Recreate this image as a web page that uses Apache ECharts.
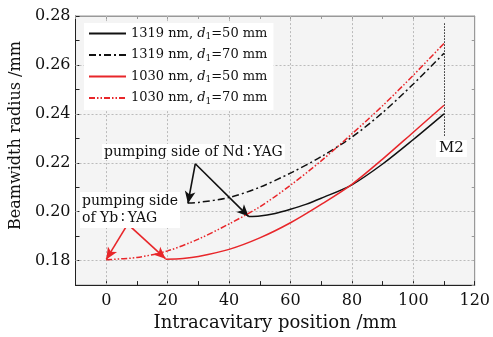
<!DOCTYPE html>
<html>
<head>
<meta charset="utf-8">
<script src="https://cdn.jsdelivr.net/npm/echarts@6/dist/echarts.min.js"></script>
<style>
  html, body { margin: 0; padding: 0; background: #fff; }
  #chart { width: 493px; height: 337px; }
</style>
</head>
<body>
<div id="chart"></div>
<script>
var FONT = "DejaVu Serif";

// curve readings (x in mm, beam radius in mm)
var xBlack50 = [46.4, 50, 55, 60, 65, 70, 80, 90, 100, 110];
var yBlack50 = [0.1980, 0.1982, 0.1993, 0.2010, 0.2030, 0.2055, 0.2110, 0.2195, 0.2295, 0.2400];
var xBlack70 = [26.6, 30, 40, 50, 60, 70, 80, 90, 100, 110];
var yBlack70 = [0.2036, 0.2038, 0.2058, 0.2100, 0.2158, 0.2225, 0.2305, 0.2405, 0.2522, 0.2648];
var xRed50 = [19.3, 25, 30, 40, 50, 60, 70, 80, 90, 100, 110];
var yRed50 = [0.1806, 0.1809, 0.1817, 0.1846, 0.1893, 0.1955, 0.2030, 0.2112, 0.2215, 0.2325, 0.2435];
var xRed70 = [0, 10, 20, 30, 40, 50, 60, 70, 80, 90, 100, 110];
var yRed70 = [0.1804, 0.1813, 0.1840, 0.1888, 0.1950, 0.2020, 0.2108, 0.2208, 0.2318, 0.2433, 0.2558, 0.2688];

var seriesNames = ["1319 nm, d1=50 mm", "1319 nm, d1=70 mm", "1030 nm, d1=50 mm", "1030 nm, d1=70 mm"];
var legendLabels = [
  "1319 nm, {i|d}{s|1}=50 mm",
  "1319 nm, {i|d}{s|1}=70 mm",
  "1030 nm, {i|d}{s|1}=50 mm",
  "1030 nm, {i|d}{s|1}=70 mm"
];

var xGrid = [0, 20, 40, 60, 80, 100];
var yGrid = [0.18, 0.20, 0.22, 0.24, 0.26];

// annotation arrows: [apex, tip]
var ndApex = [29.0, 0.2196];
var ndTips = [[26.6, 0.2034], [46.4, 0.1980]];
var ybApex = [7.0, 0.1949];
var ybTips = [[0, 0.1805], [19.3, 0.1808]];
var m2Line = [[110, 0.2770], [110, 0.2310]];

function pairs(xs, ys) {
  return xs.map(function (x, i) { return [x, ys[i]]; });
}

function arrows(apex, tips, color) {
  return {
    silent: true,
    symbol: ["none", "arrow"],
    symbolSize: [8, 12],
    label: { show: false },
    lineStyle: { color: color, width: 1.6, type: "solid" },
    emphasis: { disabled: true },
    data: tips.map(function (t) {
      return [{ coord: apex }, { coord: t }];
    })
  };
}

var chart = echarts.init(document.getElementById("chart"));

var gridLines = xGrid.map(function (v) { return { xAxis: v }; })
  .concat(yGrid.map(function (v) { return { yAxis: v }; }));

chart.setOption({
  animation: false,
  backgroundColor: "#fff",
  grid: {
    left: 70, right: 18, top: 16, bottom: 50,
    show: true, backgroundColor: "#f4f4f4", borderColor: "#999", borderWidth: 1
  },
  legend: {
    orient: "vertical",
    left: 84, top: 23,
    itemWidth: 37, itemHeight: 10, itemGap: 7,
    padding: [4, 6, 4, 4],
    backgroundColor: "#fff",
    itemStyle: { opacity: 0 },
    data: seriesNames,
    formatter: function (name) { return legendLabels[seriesNames.indexOf(name)]; },
    textStyle: {
      fontFamily: FONT, fontSize: 13, color: "#111",
      rich: {
        i: { fontFamily: FONT, fontSize: 13, fontStyle: "italic", color: "#111" },
        s: { fontFamily: FONT, fontSize: 9, color: "#111", verticalAlign: "bottom", padding: [7, 0, 0, 0] }
      }
    }
  },
  xAxis: [{
    type: "value", min: -10, max: 120, interval: 10,
    name: "Intracavitary position /mm", nameLocation: "middle", nameGap: 28,
    nameTextStyle: { fontFamily: FONT, fontSize: 18, color: "#111" },
    axisLine: { show: true, onZero: false, lineStyle: { color: "#222", width: 1 } },
    axisTick: { show: true, inside: true, length: 4, lineStyle: { color: "#222" } },
    axisLabel: {
      fontFamily: FONT, fontSize: 16, color: "#111", margin: 8,
      formatter: function (v) { return v % 20 === 0 ? String(v) : ""; }
    },
    splitLine: { show: false }
  }, {
    type: "value", min: -10, max: 120, interval: 10, position: "top",
    axisLine: { show: true, onZero: false, lineStyle: { color: "#999" } },
    axisTick: { show: true, inside: true, length: 3, lineStyle: { color: "#999" } },
    axisLabel: { show: false },
    splitLine: { show: false }
  }],
  yAxis: [{
    type: "value", min: 0.17, max: 0.28, interval: 0.01,
    name: "Beamwidth radius /mm", nameLocation: "middle", nameGap: 48,
    nameTextStyle: { fontFamily: FONT, fontSize: 16, color: "#111", padding: [0, 0, 0, 30] },
    axisLine: { show: true, onZero: false, lineStyle: { color: "#222", width: 1 } },
    axisTick: { show: true, inside: true, length: 4, lineStyle: { color: "#222" } },
    axisLabel: {
      fontFamily: FONT, fontSize: 16, color: "#111", margin: 5,
      formatter: function (v) {
        var k = Math.round(v * 100);
        return k % 2 === 0 ? v.toFixed(2) : "";
      }
    },
    splitLine: { show: false }
  }, {
    type: "value", min: 0.17, max: 0.28, interval: 0.01, position: "right",
    axisLine: { show: true, onZero: false, lineStyle: { color: "#999" } },
    axisTick: { show: true, inside: true, length: 3, lineStyle: { color: "#999" } },
    axisLabel: { show: false },
    splitLine: { show: false }
  }],
  series: [
    {
      name: seriesNames[0], type: "line", smooth: 0.3, showSymbol: false, symbol: "none",
      data: pairs(xBlack50, yBlack50), z: 5,
      lineStyle: { color: "#111", width: 1.5, type: "solid" },
      itemStyle: { color: "#111" },
      markLine: {
        silent: true, symbol: ["none", "none"], label: { show: false },
        lineStyle: { color: "#bbb", width: 1, type: [2, 2] },
        data: gridLines, z: 1
      }
    },
    {
      name: seriesNames[1], type: "line", smooth: 0.3, showSymbol: false, symbol: "none",
      data: pairs(xBlack70, yBlack70), z: 5,
      lineStyle: { color: "#111", width: 1.5, type: [7, 3, 2, 3] },
      itemStyle: { color: "#111" },
      markLine: {
        silent: true, symbol: ["none", "none"], label: { show: false },
        lineStyle: { color: "#222", width: 1, type: [1.5, 1.5] },
        data: [[{ coord: m2Line[0] }, { coord: m2Line[1] }]]
      }
    },
    {
      name: seriesNames[2], type: "line", smooth: 0.3, showSymbol: false, symbol: "none",
      data: pairs(xRed50, yRed50), z: 5,
      lineStyle: { color: "#e8262a", width: 1.5, type: "solid" },
      itemStyle: { color: "#e8262a" },
      markLine: arrows(ybApex, ybTips, "#e8262a")
    },
    {
      name: seriesNames[3], type: "line", smooth: 0.3, showSymbol: false, symbol: "none",
      data: pairs(xRed70, yRed70), z: 5,
      lineStyle: { color: "#e8262a", width: 1.5, type: [6, 2, 1.5, 2, 1.5, 2] },
      itemStyle: { color: "#e8262a" },
      markLine: arrows(ndApex, ndTips, "#111")
    }
  ],
  graphic: [
    {
      type: "text", left: 102, top: 144, z: 20,
      style: { text: "pumping side of Nd\u2009\u2236\u2009YAG", font: "14px '" + FONT + "'", fill: "#111", backgroundColor: "#fff", padding: [1, 2] }
    },
    {
      type: "text", left: 80, top: 192, z: 20,
      style: { text: "pumping side\nof Yb\u2009\u2236\u2009YAG", font: "14px '" + FONT + "'", fill: "#111", lineHeight: 17, backgroundColor: "#fff", padding: [1, 2] }
    },
    {
      type: "text", left: 436, top: 140, z: 20,
      style: { text: "M2", font: "15px '" + FONT + "'", fill: "#111", backgroundColor: "#fff", padding: [1, 3] }
    }
  ]
});
</script>
</body>
</html>
